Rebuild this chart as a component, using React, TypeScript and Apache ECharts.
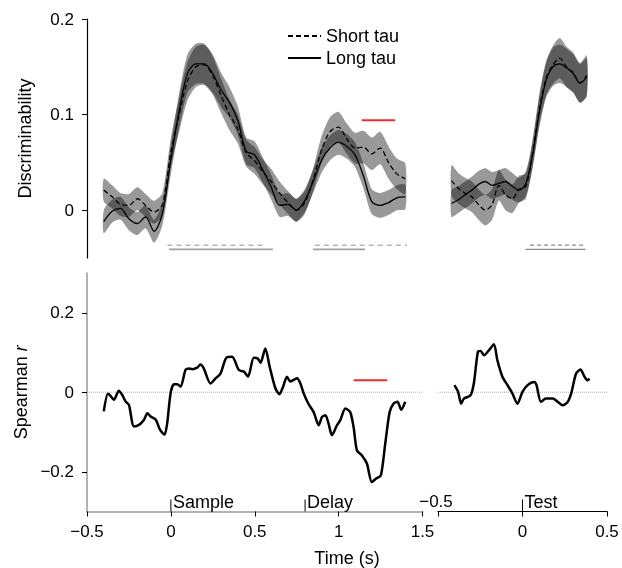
import React, { useEffect, useRef } from 'react';
import * as echarts from 'echarts';

const FONT = '"Liberation Sans", Arial, Helvetica, sans-serif';

// ---------- Top panel: discriminability ----------
const TOP_LEFT_T = [-0.4, -0.35, -0.3, -0.25, -0.2, -0.15, -0.1, -0.05, 0, 0.05, 0.1, 0.15, 0.2, 0.25, 0.3, 0.35, 0.4, 0.45, 0.5, 0.55, 0.6, 0.65, 0.7, 0.75, 0.8, 0.85, 0.9, 0.95, 1, 1.05, 1.1, 1.15, 1.2, 1.25, 1.3, 1.35, 1.4];
const LONG_LEFT = [-0.012, -0.001, 0.002, -0.009, -0.014, -0.007, -0.022, -0.004, 0.052, 0.104, 0.143, 0.153, 0.153, 0.143, 0.126, 0.113, 0.094, 0.062, 0.058, 0.042, 0.024, 0.005, 0.006, 0.0, 0.01, 0.03, 0.052, 0.065, 0.071, 0.067, 0.058, 0.036, 0.009, 0.005, 0.008, 0.013, 0.014];
const SHORT_LEFT = [0.021, 0.014, 0.006, 0.005, 0.012, 0.005, -0.002, 0.006, 0.06, 0.1, 0.135, 0.15, 0.152, 0.141, 0.12, 0.1, 0.085, 0.06, 0.052, 0.04, 0.03, 0.018, 0.008, 0.0, 0.008, 0.032, 0.063, 0.082, 0.087, 0.075, 0.065, 0.066, 0.059, 0.065, 0.05, 0.038, 0.033];
const LONG_LEFT_HALF = [0.012, 0.012, 0.012, 0.012, 0.012, 0.012, 0.012, 0.012, 0.015, 0.018, 0.02, 0.021, 0.021, 0.02, 0.018, 0.016, 0.015, 0.014, 0.014, 0.013, 0.013, 0.012, 0.012, 0.012, 0.012, 0.012, 0.013, 0.013, 0.013, 0.013, 0.013, 0.013, 0.013, 0.013, 0.013, 0.013, 0.013];
const SHORT_LEFT_HALF = [0.012, 0.012, 0.012, 0.012, 0.012, 0.012, 0.012, 0.012, 0.015, 0.018, 0.02, 0.021, 0.021, 0.02, 0.018, 0.016, 0.015, 0.014, 0.014, 0.013, 0.013, 0.012, 0.012, 0.012, 0.012, 0.012, 0.014, 0.015, 0.016, 0.016, 0.016, 0.017, 0.017, 0.017, 0.017, 0.016, 0.016];

const TOP_RIGHT_T = [-0.42, -0.38, -0.34, -0.3, -0.26, -0.22, -0.18, -0.14, -0.1, -0.06, -0.02, 0.02, 0.06, 0.1, 0.14, 0.18, 0.22, 0.26, 0.3, 0.34, 0.38];
const LONG_RIGHT = [0.007, 0.011, 0.016, 0.021, 0.027, 0.03, 0.026, 0.028, 0.03, 0.025, 0.021, 0.028, 0.058, 0.103, 0.136, 0.15, 0.153, 0.149, 0.143, 0.133, 0.139];
const SHORT_RIGHT = [0.031, 0.023, 0.018, 0.014, 0.006, 0.0, 0.006, 0.026, 0.016, 0.012, 0.022, 0.025, 0.06, 0.106, 0.138, 0.152, 0.159, 0.15, 0.144, 0.133, 0.141];
const LONG_RIGHT_HALF = [0.014, 0.014, 0.014, 0.014, 0.014, 0.014, 0.014, 0.014, 0.014, 0.014, 0.013, 0.013, 0.014, 0.016, 0.018, 0.02, 0.02, 0.02, 0.02, 0.02, 0.02];
const SHORT_RIGHT_HALF = [0.016, 0.016, 0.016, 0.016, 0.016, 0.016, 0.016, 0.016, 0.016, 0.015, 0.014, 0.013, 0.014, 0.016, 0.018, 0.02, 0.021, 0.021, 0.021, 0.021, 0.021];

// significance bars (start, end) in seconds
const SIG_SHORT_LEFT = [[-0.02, 0.55], [0.86, 1.41]];
const SIG_LONG_LEFT = [[-0.01, 0.61], [0.85, 1.16]];
const SIG_SHORT_RIGHT = [[0.045, 0.373]];
const SIG_LONG_RIGHT = [[0.018, 0.373]];
const SIG_SHORT_Y = -0.0366;
const SIG_LONG_Y = -0.041;

const RED_TOP = [1.14, 1.34];
const RED_TOP_Y = 0.094;

// ---------- Bottom panel: Spearman r ----------
const SP_LEFT_T = [-0.4, -0.375, -0.36, -0.34, -0.31, -0.29, -0.27, -0.25, -0.22, -0.19, -0.16, -0.14, -0.12, -0.09, -0.065, -0.038, -0.022, -0.002, 0.018, 0.038, 0.058, 0.087, 0.107, 0.127, 0.157, 0.177, 0.196, 0.236, 0.266, 0.296, 0.331, 0.365, 0.405, 0.435, 0.46, 0.494, 0.518, 0.534, 0.563, 0.589, 0.623, 0.647, 0.669, 0.692, 0.712, 0.732, 0.752, 0.772, 0.792, 0.82, 0.851, 0.881, 0.901, 0.921, 0.94, 0.96, 0.99, 1.01, 1.04, 1.069, 1.089, 1.109, 1.139, 1.169, 1.198, 1.224, 1.252, 1.278, 1.304, 1.327, 1.351, 1.373, 1.397];
const SP_LEFT_R = [-0.048, -0.004, -0.009, -0.019, 0.004, -0.007, -0.023, -0.032, -0.086, -0.082, -0.069, -0.053, -0.061, -0.069, -0.094, -0.107, -0.078, -0.003, 0.02, 0.02, 0.014, 0.056, 0.06, 0.058, 0.062, 0.07, 0.06, 0.022, 0.035, 0.047, 0.087, 0.089, 0.056, 0.052, 0.039, 0.087, 0.085, 0.074, 0.11, 0.064, 0.01, -0.005, 0.014, 0.039, 0.027, 0.031, 0.035, 0.022, -0.003, -0.029, -0.05, -0.083, -0.062, -0.058, -0.079, -0.108, -0.083, -0.07, -0.041, -0.05, -0.087, -0.146, -0.159, -0.18, -0.226, -0.217, -0.209, -0.129, -0.05, -0.029, -0.024, -0.044, -0.024];
const SP_RIGHT_T = [-0.403, -0.381, -0.363, -0.347, -0.308, -0.288, -0.264, -0.248, -0.228, -0.198, -0.169, -0.149, -0.119, -0.089, -0.06, -0.03, 0.0, 0.03, 0.069, 0.083, 0.109, 0.139, 0.179, 0.208, 0.238, 0.268, 0.288, 0.317, 0.343, 0.367, 0.383, 0.397];
const SP_RIGHT_R = [0.018, 0.001, -0.029, -0.016, -0.008, 0.022, 0.102, 0.104, 0.093, 0.106, 0.121, 0.081, 0.039, 0.018, -0.003, -0.029, 0.001, 0.018, 0.026, 0.018, -0.024, -0.016, -0.016, -0.024, -0.033, -0.024, -0.003, 0.047, 0.057, 0.039, 0.03, 0.034];

const RED_BOTTOM = [1.09, 1.29];
const RED_BOTTOM_Y = 0.03;

const EVENT_LEFT_T = [0, 0.8];
const EVENT_LEFT_LABELS = ['Sample', 'Delay'];
const EVENT_RIGHT_T = [0];
const EVENT_RIGHT_LABELS = ['Test'];

const TOP_Y_TICKS = [0, 0.1, 0.2];
const BOTTOM_Y_TICKS = [-0.2, 0, 0.2];

const fmt = (v: number) => {
  const r = Math.round(v * 1000) / 1000;
  if (r === 0) return '0';
  return (r < 0 ? '\u2212' : '') + String(Math.abs(r));
};

const pairs = (t: number[], v: number[]) => t.map((x, i) => [x, v[i]]);

function bandSeries(t: number[], mean: number[], half: number[], ax: number) {
  return {
    type: 'custom',
    xAxisIndex: ax,
    yAxisIndex: ax,
    silent: true,
    z: 1,
    data: [[t[0], mean[0]]],
    renderItem: (_p: any, api: any) => {
      const up = t.map((x, i) => api.coord([x, mean[i] + half[i]]));
      const lo = t.map((x, i) => api.coord([x, mean[i] - half[i]])).reverse();
      return {
        type: 'polygon',
        shape: { points: up.concat(lo), smooth: 0.25 },
        style: { fill: 'rgba(0,0,0,0.4)' },
      };
    },
  };
}

function meanLine(name: string, t: number[], v: number[], ax: number, dashed: boolean) {
  return {
    type: 'line',
    name,
    xAxisIndex: ax,
    yAxisIndex: ax,
    data: pairs(t, v),
    symbol: 'none',
    smooth: 0.3,
    z: 3,
    silent: true,
    itemStyle: { color: '#000', opacity: 0 },
    lineStyle: { color: '#000', width: 1.3, type: dashed ? [5, 3] : 'solid' },
  };
}

function segLine(seg: number[], y: number, ax: number, color: string, width: number, type: any) {
  return {
    type: 'line',
    xAxisIndex: ax,
    yAxisIndex: ax,
    data: [[seg[0], y], [seg[1], y]],
    symbol: 'none',
    silent: true,
    z: 2,
    lineStyle: { color, width, type },
  };
}

function eventSeries(t: number[], labels: string[], ax: number) {
  return {
    type: 'custom',
    xAxisIndex: ax,
    yAxisIndex: ax,
    silent: true,
    clip: false,
    z: 4,
    data: t.map((x) => [x, -0.3]),
    renderItem: (p: any, api: any) => {
      const b = api.coord([api.value(0), -0.3]);
      return {
        type: 'group',
        children: [
          { type: 'line', shape: { x1: b[0], y1: b[1], x2: b[0], y2: b[1] - 12 }, style: { stroke: '#000', lineWidth: 1 } },
          {
            type: 'text',
            x: b[0] + 2,
            y: b[1] - 1,
            style: { text: labels[p.dataIndex], fontSize: 18, fontFamily: FONT, fill: '#000', align: 'left', verticalAlign: 'bottom' },
          },
        ],
      };
    },
  };
}

function raisedTickLabel(value: number, ax: number) {
  return {
    type: 'custom',
    xAxisIndex: ax,
    yAxisIndex: ax,
    silent: true,
    clip: false,
    z: 4,
    data: [[value, -0.3]],
    renderItem: (_p: any, api: any) => {
      const b = api.coord([api.value(0), -0.3]);
      return {
        type: 'text',
        x: b[0] - 2,
        y: b[1] - 2,
        style: { text: fmt(value), fontSize: 17, fontFamily: FONT, fill: '#000', align: 'center', verticalAlign: 'bottom' },
      };
    },
  };
}

export default function App() {
  const ref = useRef<HTMLDivElement>(null);
  useEffect(() => {
    if (!ref.current) return;
    const chart = echarts.init(ref.current, undefined, { renderer: 'svg' });
    const labelStyle = { fontSize: 17, fontFamily: FONT, color: '#000' };
    const option: any = {
      animation: false,
      textStyle: { fontFamily: FONT },
      grid: [
        { left: 87, top: 19, width: 335, height: 239, outerBoundsMode: 'none' },
        { left: 438, top: 19, width: 169, height: 239, outerBoundsMode: 'none' },
        { left: 87, top: 273, width: 335.5, height: 238.5, outerBoundsMode: 'none' },
        { left: 438, top: 273, width: 169, height: 238.5, outerBoundsMode: 'none' },
      ],
      xAxis: [
        { gridIndex: 0, type: 'value', min: -0.5, max: 1.5, show: false },
        { gridIndex: 1, type: 'value', min: -0.5, max: 0.5, show: false },
        {
          gridIndex: 2, type: 'value', min: -0.5, max: 1.5, interval: 0.5,
          axisLine: { show: true, onZero: false, lineStyle: { color: '#9a9a9a', width: 1.5 } },
          axisTick: { show: true, length: 5, lineStyle: { color: '#000', width: 1 } },
          axisLabel: { ...labelStyle, margin: 11, formatter: (v: number) => fmt(v) },
          splitLine: { show: false },
        },
        {
          gridIndex: 3, type: 'value', min: -0.5, max: 0.5, interval: 0.5,
          axisLine: { show: true, onZero: false, lineStyle: { color: '#000', width: 1.2 } },
          axisTick: { show: true, length: 5, lineStyle: { color: '#000', width: 1 } },
          axisLabel: { ...labelStyle, margin: 11, formatter: (v: number) => (Math.abs(v + 0.5) < 1e-9 ? '' : fmt(v)) },
          splitLine: { show: false },
        },
      ],
      yAxis: [
        {
          gridIndex: 0, type: 'value', min: -0.05, max: 0.2,
          name: 'Discriminability', nameLocation: 'middle', nameGap: 53, nameRotate: 90,
          nameTextStyle: { fontSize: 18, fontFamily: FONT, color: '#000' },
          axisLine: { show: true, onZero: false, lineStyle: { color: '#000', width: 1.2 } },
          axisTick: { show: true, length: 5, customValues: TOP_Y_TICKS, lineStyle: { color: '#000', width: 1 } },
          axisLabel: { ...labelStyle, margin: 13, customValues: TOP_Y_TICKS, formatter: (v: number) => fmt(v) },
          splitLine: { show: false },
        },
        { gridIndex: 1, type: 'value', min: -0.05, max: 0.2, show: false },
        {
          gridIndex: 2, type: 'value', min: -0.3, max: 0.3,
          name: 'Spearman {i|r}', nameLocation: 'middle', nameGap: 53, nameRotate: 90,
          nameTextStyle: {
            fontSize: 18, fontFamily: FONT, color: '#000',
            rich: { i: { fontSize: 18, fontFamily: FONT, fontStyle: 'italic', color: '#000' } },
          },
          axisLine: { show: true, onZero: false, lineStyle: { color: '#9a9a9a', width: 1.5 } },
          axisTick: { show: true, length: 5, customValues: BOTTOM_Y_TICKS, lineStyle: { color: '#000', width: 1 } },
          axisLabel: { ...labelStyle, margin: 13, customValues: BOTTOM_Y_TICKS, formatter: (v: number) => fmt(v) },
          splitLine: { show: false },
        },
        { gridIndex: 3, type: 'value', min: -0.3, max: 0.3, show: false },
      ],
      legend: {
        data: ['Short tau', 'Long tau'],
        orient: 'vertical',
        left: 287,
        top: 27,
        itemWidth: 33,
        itemHeight: 12,
        itemGap: 4,
        padding: 0,
        itemStyle: { opacity: 0 },
        lineStyle: { color: '#000' },
        textStyle: { fontSize: 18, fontFamily: FONT, color: '#000' },
      },
      graphic: [
        {
          type: 'text', x: 347, y: 558,
          style: { text: 'Time (s)', fontSize: 18, fontFamily: FONT, fill: '#000', align: 'center', verticalAlign: 'middle' },
        },
      ],
      series: [
        // top left
        bandSeries(TOP_LEFT_T, LONG_LEFT, LONG_LEFT_HALF, 0),
        bandSeries(TOP_LEFT_T, SHORT_LEFT, SHORT_LEFT_HALF, 0),
        meanLine('Short tau', TOP_LEFT_T, SHORT_LEFT, 0, true),
        meanLine('Long tau', TOP_LEFT_T, LONG_LEFT, 0, false),
        ...SIG_SHORT_LEFT.map((s) => segLine(s, SIG_SHORT_Y, 0, '#b4b4b4', 1.6, [5, 4])),
        ...SIG_LONG_LEFT.map((s) => segLine(s, SIG_LONG_Y, 0, '#a0a0a0', 1.6, 'solid')),
        segLine(RED_TOP, RED_TOP_Y, 0, '#e8312f', 2, 'solid'),
        // top right
        bandSeries(TOP_RIGHT_T, LONG_RIGHT, LONG_RIGHT_HALF, 1),
        bandSeries(TOP_RIGHT_T, SHORT_RIGHT, SHORT_RIGHT_HALF, 1),
        meanLine('Short tau', TOP_RIGHT_T, SHORT_RIGHT, 1, true),
        meanLine('Long tau', TOP_RIGHT_T, LONG_RIGHT, 1, false),
        ...SIG_SHORT_RIGHT.map((s) => segLine(s, SIG_SHORT_Y, 1, '#8a8a8a', 1.2, [4, 3])),
        ...SIG_LONG_RIGHT.map((s) => segLine(s, SIG_LONG_Y, 1, '#8a8a8a', 1.4, 'solid')),
        // bottom left
        segLine([-0.5, 1.5], 0, 2, '#b0b0b0', 1, 'dotted'),
        {
          type: 'line', xAxisIndex: 2, yAxisIndex: 2, data: pairs(SP_LEFT_T, SP_LEFT_R),
          symbol: 'none', smooth: 0.25, silent: true, z: 3,
          lineStyle: { color: '#000', width: 2.5 },
        },
        segLine(RED_BOTTOM, RED_BOTTOM_Y, 2, '#e8312f', 2, 'solid'),
        eventSeries(EVENT_LEFT_T, EVENT_LEFT_LABELS, 2),
        // bottom right
        segLine([-0.5, 0.5], 0, 3, '#b0b0b0', 1, 'dotted'),
        {
          type: 'line', xAxisIndex: 3, yAxisIndex: 3, data: pairs(SP_RIGHT_T, SP_RIGHT_R),
          symbol: 'none', smooth: 0.25, silent: true, z: 3,
          lineStyle: { color: '#000', width: 2.5 },
        },
        eventSeries(EVENT_RIGHT_T, EVENT_RIGHT_LABELS, 3),
        raisedTickLabel(-0.5, 3),
      ],
    };
    chart.setOption(option);
    return () => chart.dispose();
  }, []);
  return <div ref={ref} style={{ position: 'fixed', left: 0, top: 0, width: 622, height: 568 }} />;
}
